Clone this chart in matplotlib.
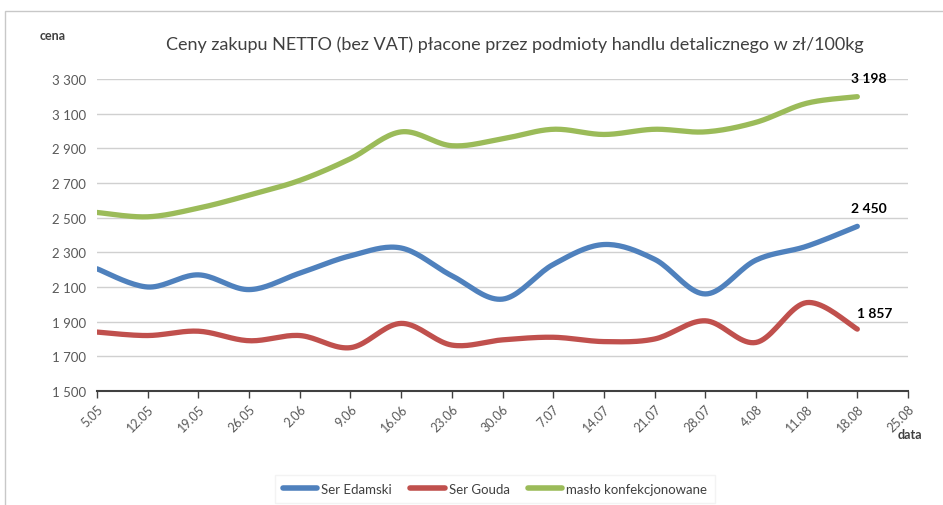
import numpy as np
import matplotlib.pyplot as plt
from matplotlib.patches import Rectangle
from matplotlib.lines import Line2D

dates = ['5.05', '12.05', '19.05', '26.05', '2.06', '9.06', '16.06', '23.06', '30.06',
         '7.07', '14.07', '21.07', '28.07', '4.08', '11.08', '18.08', '25.08']
edamski = [2205, 2100, 2170, 2085, 2180, 2280, 2325, 2165, 2030,
           2230, 2345, 2260, 2060, 2255, 2335, 2450]
gouda = [1840, 1820, 1845, 1790, 1820, 1750, 1890, 1765, 1795,
         1810, 1785, 1800, 1905, 1780, 2010, 1857]
maslo = [2530, 2505, 2555, 2630, 2715, 2840, 2995, 2915, 2955,
         3010, 2980, 3010, 2995, 3050, 3160, 3198]
names = ['Ser Edamski', 'Ser Gouda', 'masło konfekcjonowane']
colors = ['#4f81bd', '#c0504d', '#9bbb59']

plt.rcParams['font.family'] = ['Lato', 'DejaVu Sans']


def smooth(y, n=20):
    # catmull-rom curve through the points, like excel's smoothed line
    y = np.asarray(y, float)
    x = np.arange(len(y), dtype=float)
    px = np.concatenate([[x[0]], x, [x[-1]]])
    py = np.concatenate([[y[0]], y, [y[-1]]])
    xs, ys = [], []
    for i in range(1, len(px) - 2):
        t = np.linspace(0, 1, n, endpoint=False)
        for p, out in ((px, xs), (py, ys)):
            p0, p1, p2, p3 = p[i - 1], p[i], p[i + 1], p[i + 2]
            out.extend(0.5 * (2 * p1 + (-p0 + p2) * t + (2 * p0 - 5 * p1 + 4 * p2 - p3) * t ** 2
                              + (-p0 + 3 * p1 - 3 * p2 + p3) * t ** 3))
    xs.append(x[-1])
    ys.append(y[-1])
    return np.array(xs), np.array(ys)


fig = plt.figure(figsize=(9.43, 5.06), dpi=100)
ax = fig.add_axes([97 / 943, 1 - 392 / 506, (908 - 97) / 943, (392 - 80) / 506])

offsets = [(8, 9), (0, 7), (8, 9)]
for vals, c, off in zip([edamski, gouda, maslo], colors, offsets):
    sx, sy = smooth(vals)
    ax.plot(sx, sy, color=c, lw=3.8, solid_capstyle='round', zorder=3)
    last = len(vals) - 1
    lab = f'{vals[-1]:,}'.replace(',', ' ')
    ax.annotate(lab, (last, vals[-1]), xytext=off, textcoords='offset points',
                ha='left' if c == '#c0504d' else 'center', va='bottom',
                fontsize=10, fontweight='bold', color='black')

ax.set_xlim(0, len(dates) - 1)
ax.set_ylim(1500, 3300)
yt = np.arange(1500, 3301, 200)
ax.set_yticks(yt)
ax.set_yticklabels([f'{v:,}'.replace(',', ' ') for v in yt], fontsize=9.5, color='#595959')
ax.set_xticks(range(len(dates)))
ax.set_xticklabels(dates, rotation=45, ha='right', rotation_mode='anchor',
                   fontsize=9, color='#595959')
ax.grid(axis='y', color='#d0d0d0', lw=1)
ax.set_axisbelow(True)
for s in ['top', 'right', 'left']:
    ax.spines[s].set_visible(False)
ax.spines['bottom'].set_color('#404040')
ax.spines['bottom'].set_linewidth(1.5)
ax.tick_params(axis='y', length=0, pad=8)
ax.tick_params(axis='x', direction='out', length=5, color='#404040', width=1, pad=3)

fig.text(515 / 943, 1 - 45 / 506, 'Ceny zakupu NETTO (bez VAT) płacone przez podmioty handlu detalicznego w zł/100kg',
         ha='center', va='center', fontsize=13, color='#404040')
fig.text(40 / 943, 1 - 36 / 506, 'cena', ha='left', va='center', fontsize=9,
         fontweight='bold', color='#404040')
fig.text(910 / 943, 1 - 435 / 506, 'data', ha='center', va='center', fontsize=9,
         fontweight='bold', color='#404040')

handles = [Line2D([0], [0], color=c, lw=4, solid_capstyle='round') for c in colors]
leg = fig.legend(handles, names, loc='center', bbox_to_anchor=(495 / 943, 1 - 490 / 506),
                 ncol=3, frameon=True, fontsize=9.5, handlelength=2.6, columnspacing=1.4,
                 handletextpad=0.3, borderpad=0.6)
leg.get_frame().set_edgecolor('#f0f0f0')
leg.get_frame().set_boxstyle('square', pad=0)
for t in leg.get_texts():
    t.set_color('#404040')

fig.add_artist(Rectangle((5 / 943, -0.05), 1.0, 1 - 12 / 506 + 0.05,
                         transform=fig.transFigure, fill=False, edgecolor='#c8c8c8', lw=1))

fig.savefig('out.png', dpi=100)
